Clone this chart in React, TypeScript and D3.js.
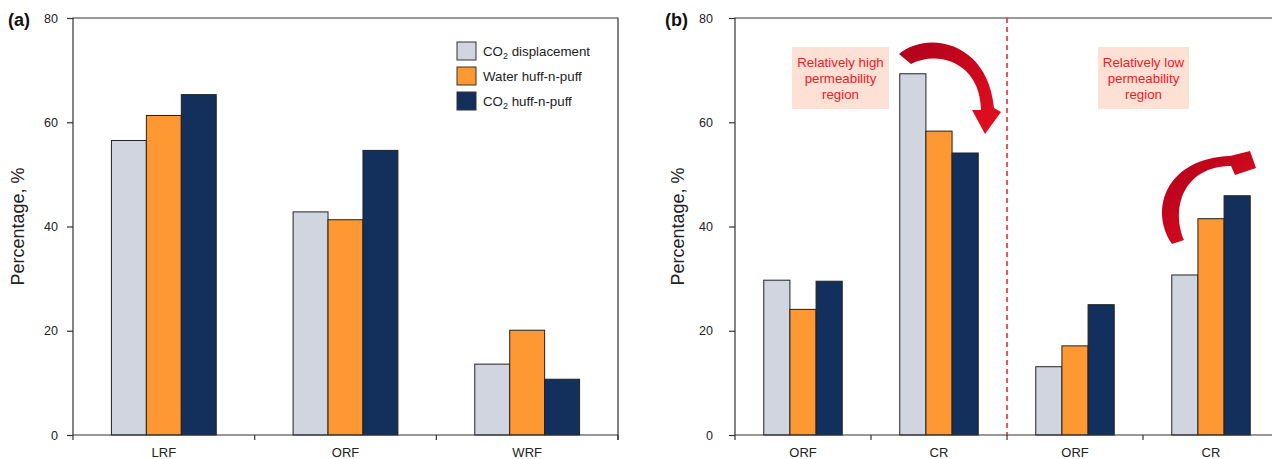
import * as d3 from "d3";
import React, { useEffect } from "react";

const seriesNames = ["CO2 displacement", "Water huff-n-puff", "CO2 huff-n-puff"];
const seriesColors = ["#d0d5df", "#fd9832", "#12305b"];

const catsA = ["LRF", "ORF", "WRF"];
const co2DispA = [56.5, 42.8, 13.6];
const waterA = [61.3, 41.3, 20.1];
const co2HuffA = [65.3, 54.6, 10.7];

const catsB = ["ORF", "CR", "ORF", "CR"];
const co2DispB = [29.7, 69.3, 13.1, 30.7];
const waterB = [24.1, 58.3, 17.1, 41.5];
const co2HuffB = [29.5, 54.1, 25.0, 45.9];

const yTicks = [0, 20, 40, 60, 80];
const notes = [
  ["Relatively high", "permeability", "region"],
  ["Relatively low", "permeability", "region"],
];

const FONT = "'Liberation Sans', Arial, Helvetica, sans-serif";

const App: React.FC = () => {
  useEffect(() => {
    const width = 1272;
    const height = 459;
    const top = 18;
    const bottom = 435;

    const svg = d3.select("#chart")
      .append("svg")
      .attr("width", width)
      .attr("height", height)
      .attr("style", `position:absolute;left:0;top:0;font-family:${FONT};`);

    const defs = svg.append("defs");
    const grad = defs.append("linearGradient").attr("id", "arrowGrad")
      .attr("x1", "0").attr("y1", "0").attr("x2", "1").attr("y2", "1");
    grad.append("stop").attr("offset", "0%").attr("stop-color", "#b0001c");
    grad.append("stop").attr("offset", "100%").attr("stop-color", "#e5101f");

    const y = d3.scaleLinear().domain([0, 80]).range([bottom, top]);

    const drawPanel = (opts: {
      left: number; right: number; frameRight: number; cats: string[];
      values: number[][]; tag: string; tagX: number; labelX: number; tickPad: number;
    }) => {
      const { left, right, frameRight, cats, values, tag, tagX, labelX, tickPad } = opts;
      const g = svg.append("g");
      const x = d3.scaleBand<number>().domain(d3.range(cats.length)).range([left, right]).padding(0);
      const sub = d3.scaleBand<number>().domain([0, 1, 2]).range([0, x.bandwidth()])
        .paddingInner(0).paddingOuter(1.1);

      // bars
      cats.forEach((_, i) => {
        values.forEach((vals, s) => {
          g.append("rect")
            .attr("x", x(i)! + sub(s)!)
            .attr("y", y(vals[i]))
            .attr("width", sub.bandwidth())
            .attr("height", y(0) - y(vals[i]))
            .attr("fill", seriesColors[s])
            .attr("stroke", "#222")
            .attr("stroke-width", 1);
        });
      });

      // frame
      g.append("path")
        .attr("d", `M${left},${y(0)}V${top}H${frameRight}V${y(0) + 5}`)
        .attr("fill", "none").attr("stroke", "#333").attr("stroke-width", 1.2);
      g.append("line")
        .attr("x1", left).attr("x2", frameRight).attr("y1", y(0)).attr("y2", y(0))
        .attr("stroke", "#333").attr("stroke-width", 1.2);

      // x ticks at band boundaries
      d3.range(cats.length + 1).forEach(i => {
        const xx = i < cats.length ? x(i)! : right;
        g.append("line").attr("x1", xx).attr("x2", xx).attr("y1", y(0)).attr("y2", y(0) + 5)
          .attr("stroke", "#333").attr("stroke-width", 1.2);
      });
      cats.forEach((c, i) => {
        g.append("text")
          .attr("x", x(i)! + x.bandwidth() / 2).attr("y", 457)
          .attr("text-anchor", "middle").attr("font-size", 13).attr("fill", "#222")
          .text(c);
      });

      // y axis
      const ax = g.append("g").attr("transform", `translate(${left},0)`)
        .call(d3.axisLeft(y).tickValues(yTicks).tickSize(6).tickPadding(tickPad).tickSizeOuter(0));
      ax.select(".domain").remove();
      ax.selectAll(".tick line").attr("stroke", "#333").attr("stroke-width", 1.2);
      ax.selectAll(".tick text").attr("font-size", 12.5).attr("font-family", FONT).attr("fill", "#222");

      g.append("text")
        .attr("transform", `translate(${labelX},${(top + bottom) / 2}) rotate(-90)`)
        .attr("text-anchor", "middle").attr("font-size", 18).attr("fill", "#222")
        .text("Percentage, %");

      g.append("text").attr("x", tagX).attr("y", 26)
        .attr("font-size", 18).attr("font-weight", "bold").attr("fill", "#111")
        .text(tag);

      return x;
    };

    drawPanel({
      left: 73, right: 618, frameRight: 618, cats: catsA,
      values: [co2DispA, waterA, co2HuffA], tag: "(a)", tagX: 8, labelX: 24, tickPad: 9,
    });
    const xb = drawPanel({
      left: 735, right: 1279, frameRight: 1279, cats: catsB,
      values: [co2DispB, waterB, co2HuffB], tag: "(b)", tagX: 665, labelX: 684, tickPad: 16,
    });

    // legend (panel a)
    const leg = svg.append("g");
    seriesNames.forEach((name, i) => {
      const ly = 42 + i * 25;
      leg.append("rect").attr("x", 457).attr("y", ly).attr("width", 19).attr("height", 18)
        .attr("fill", seriesColors[i]).attr("stroke", "#333").attr("stroke-width", 1);
      const t = leg.append("text").attr("x", 483).attr("y", ly + 14)
        .attr("font-size", 13.3).attr("fill", "#222");
      if (name.startsWith("CO2")) {
        t.append("tspan").text("CO");
        t.append("tspan").attr("font-size", 9).attr("dy", 3).text("2");
        t.append("tspan").attr("dy", -3).text(name.slice(3));
      } else {
        t.text(name);
      }
    });

    // region divider
    const divX = xb(2)!;
    svg.append("line")
      .attr("x1", divX).attr("x2", divX).attr("y1", top).attr("y2", y(0))
      .attr("stroke", "#e0202a").attr("stroke-width", 1.5).attr("stroke-dasharray", "5,4");

    // annotation boxes
    const boxes = [
      { x: 792, w: 97 },
      { x: 1098, w: 91 },
    ];
    boxes.forEach((b, i) => {
      svg.append("rect").attr("x", b.x).attr("y", 47).attr("width", b.w).attr("height", 62)
        .attr("fill", "#fde1d5");
      notes[i].forEach((line, j) => {
        svg.append("text").attr("x", b.x + b.w / 2).attr("y", 67 + j * 16)
          .attr("text-anchor", "middle").attr("font-size", 13.3).attr("fill", "#ec1c24")
          .text(line);
      });
    });

    // curved arrows
    svg.append("path")
      .attr("d", "M899,54 C928,30 988,42 994,108 L1001,112 L985,134 L972,110 L981,110 C980,62 938,50 911,64 Z")
      .attr("fill", "url(#arrowGrad)");
    svg.append("path")
      .attr("d", "M1172,244 C1148,208 1168,158 1230,156 L1250,151 L1256,168 L1235,175 L1231,166 C1186,166 1170,205 1184,240 Z")
      .attr("fill", "url(#arrowGrad)");

    return () => {
      d3.select("#chart").selectAll("*").remove();
    };
  }, []);

  return <div id="chart" />;
};

export default App;
